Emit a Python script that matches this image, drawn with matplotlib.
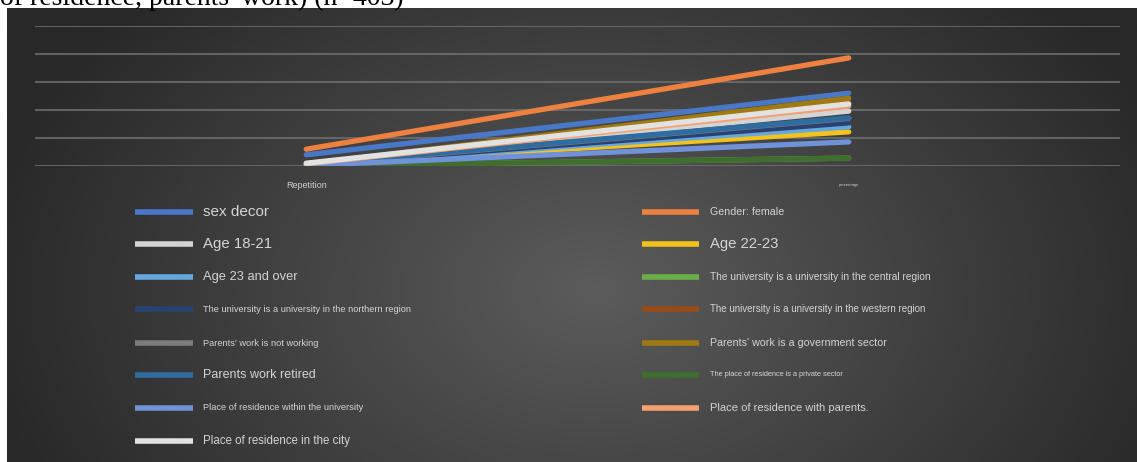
import numpy as np
import matplotlib
matplotlib.use("Agg")
import matplotlib.pyplot as plt
from matplotlib.lines import Line2D

# categories on the x axis
categories = ["Repetition", "percentage"]

# series names (legend order) and their colours as they look in the source
series_names = [
    "sex decor",
    "Gender: female",
    "Age 18-21",
    "Age 22-23",
    "Age 23 and over",
    "The university is a university in the central region",
    "The university is a university in the northern region",
    "The university is a university in the western region",
    "Parents' work is not working",
    "Parents' work is a government sector",
    "Parents work retired",
    "The place of residence is a private sector",
    "Place of residence within the university",
    "Place of residence with parents.",
    "Place of residence in the city",
]
series_colors = [
    "#4A78C8", "#EE8040", "#D4D4D4", "#F2C21E", "#66A8DE", "#6AB048",
    "#2A4272", "#9A4A16", "#7C7C7C", "#A07A10", "#2F6CA0", "#3F6E2E",
    "#7092D8", "#F4A070", "#E2E2E2",
]
# values (Repetition, percentage)
repetition_vals = [20, 30, 4, 2, 2, 0, 2, 2, 2, 3, 3, 0, 1, 4, 5]
percentage_vals = [130, 193, 98, 61, 70, 14, 77, 119, 85, 121, 86, 14, 43, 107, 111]

# legend label font sizes as they appear in the source
label_sizes = [11, 7.7, 10.8, 10.7, 9.3, 7.3, 6.7, 7, 6.7, 7.7, 9, 5.3, 6.7, 8, 8.3]

W, H = 1137, 462
fig = plt.figure(figsize=(W / 100, H / 100), dpi=100)
fig.patch.set_facecolor("white")

# cut-off caption text at the very top
fig.text(0.0, 1 - 5 / H, "of residence, parents' work) (n=403)", fontsize=20,
         family="Liberation Serif", color="black", va="baseline", ha="left")

# dark gradient panel
bg = fig.add_axes([7 / W, 0, 1 - 7 / W, 1 - 8 / H], zorder=0)
gx, gy = np.meshgrid(np.linspace(0, 1, 400), np.linspace(0, 1, 200))
d = np.sqrt(((gx - 0.52) / 0.55) ** 2 + ((gy - 0.62) / 0.95) ** 2)
shade = np.clip(0.36 - 0.2 * d, 0.16, 0.36)
bg.imshow(shade, cmap="gray", vmin=0, vmax=1, aspect="auto", origin="upper",
          extent=[0, 1, 0, 1], interpolation="bicubic")
bg.axis("off")

ax = fig.add_axes([35 / W, 1 - 166 / H, (1120 - 35) / W, (166 - 26) / H], zorder=1)
ax.patch.set_alpha(0)
x = np.arange(len(categories))
for name, col, r, p in zip(series_names, series_colors, repetition_vals, percentage_vals):
    ax.plot(x, [r, p], color=col, lw=3.8, solid_capstyle="round", label=name)

ax.set_xlim(-0.5, 1.5)
ax.set_ylim(0, 250)
ax.set_yticks(np.arange(0, 251, 50))
ax.set_yticklabels([])
ax.tick_params(left=False, bottom=False)
ax.set_xticks(x)
ax.set_xticklabels([])
ax.grid(axis="y", color="#707070", lw=1.5, alpha=0.8)
ax.set_axisbelow(True)
for s in ax.spines.values():
    s.set_visible(False)

# category labels under the plot
tick_sizes = [6.5, 3]
for xi, lab, fs in zip(x, categories, tick_sizes):
    ax.annotate(lab, (xi, 0), xytext=(0, -14), textcoords="offset points",
                ha="center", va="center", fontsize=fs, color="#d0d0d0",
                family="Liberation Sans")

# legend in two columns, row-major
row_y = [212, 244, 277, 309, 343, 375, 408, 441]
col_x = [(135, 193, 203), (642, 699, 710)]
for i, (name, col, fs) in enumerate(zip(series_names, series_colors, label_sizes)):
    r, c = i // 2, i % 2
    x0, x1, tx = col_x[c]
    yy = 1 - row_y[r] / H
    fig.add_artist(Line2D([x0 / W, x1 / W], [yy, yy], color=col, lw=4,
                          solid_capstyle="butt", transform=fig.transFigure))
    fig.text(tx / W, yy, name, fontsize=fs, color="#d4d4d4", va="center",
             ha="left", family="Liberation Sans")

fig.savefig("out.png", dpi=100)
